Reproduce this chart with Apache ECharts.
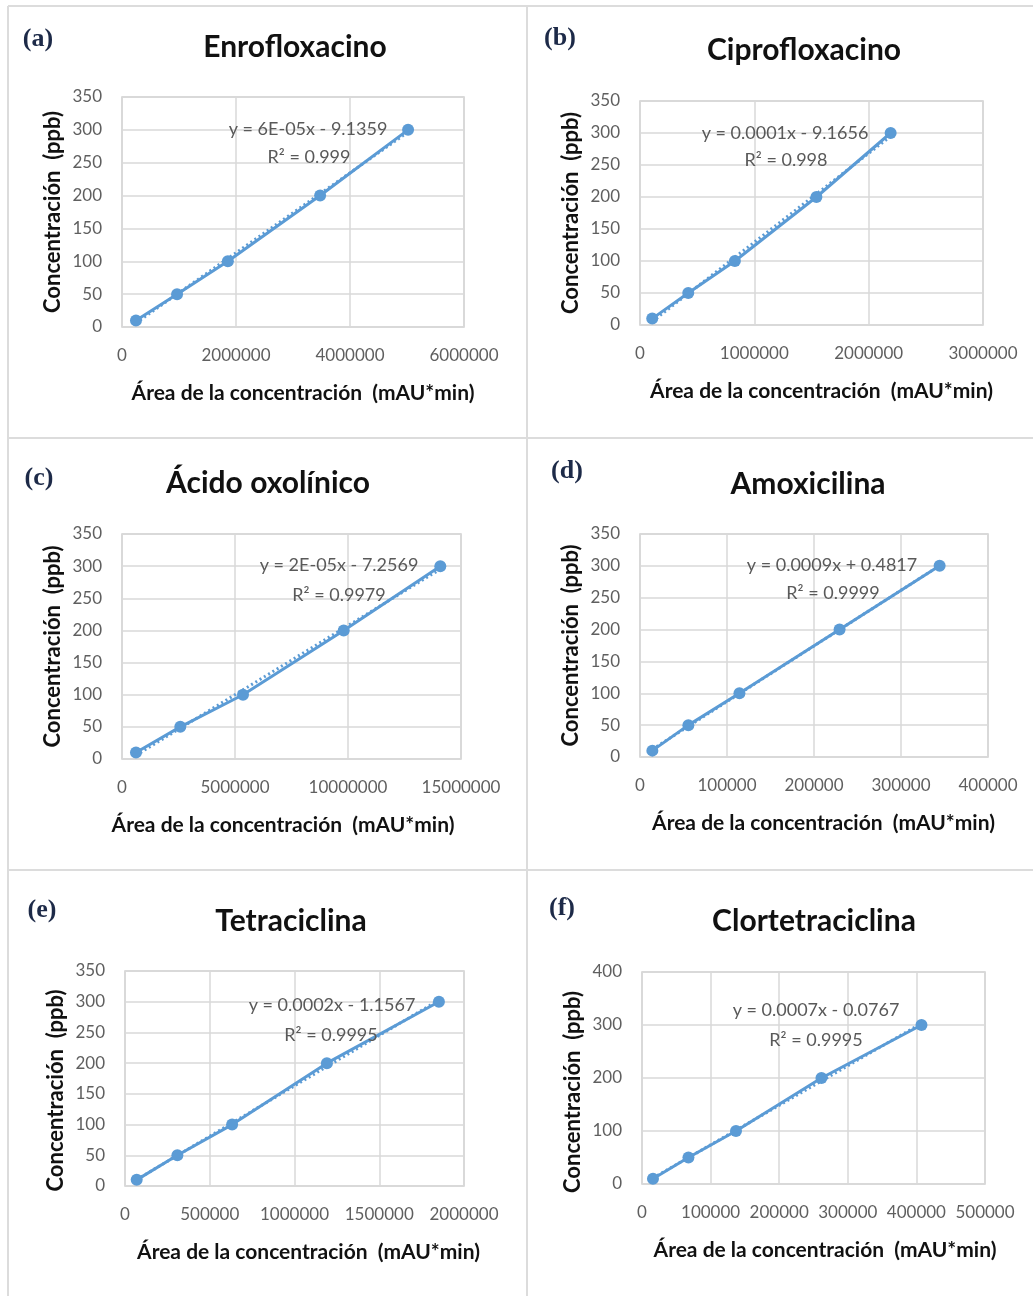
<!DOCTYPE html>
<html>
<head>
<meta charset="utf-8">
<script src="https://cdn.jsdelivr.net/npm/echarts@6/dist/echarts.min.js"></script>
<style>
  html, body { margin: 0; padding: 0; background: #ffffff; }
  #chart { width: 1033px; height: 1296px; }
</style>
</head>
<body>
<div id="chart"></div>
<script>
// Calibration curves: peak area (mAU*min) against standard concentration (ppb)
const panelTags = ['(a)', '(b)', '(c)', '(d)', '(e)', '(f)'];
const compounds = ['Enrofloxacino', 'Ciprofloxacino', 'Ácido oxolínico', 'Amoxicilina', 'Tetraciclina', 'Clortetraciclina'];
const concentration = [10, 50, 100, 200, 300];
const areaEnrofloxacino = [245000, 966000, 1857000, 3476000, 5019000];
const areaCiprofloxacino = [107000, 422000, 830000, 1543000, 2192000];
const areaAcidoOxolinico = [619000, 2580000, 5354000, 9810000, 14084000];
const areaAmoxicilina = [14200, 55600, 114300, 229400, 344400];
const areaTetraciclina = [69000, 309000, 632000, 1191000, 1852000];
const areaClortetraciclina = [16000, 67700, 137000, 261600, 407400];
const equations = ['y = 6E-05x - 9.1359', 'y = 0.0001x - 9.1656', 'y = 2E-05x - 7.2569', 'y = 0.0009x + 0.4817', 'y = 0.0002x - 1.1567', 'y = 0.0007x - 0.0767'];
const rSquared = ['R² = 0.999', 'R² = 0.998', 'R² = 0.9979', 'R² = 0.9999', 'R² = 0.9995', 'R² = 0.9995'];
const xTickMax = [6000000, 3000000, 15000000, 400000, 2000000, 500000];
const xTickStep = [2000000, 1000000, 5000000, 100000, 500000, 100000];
const yTickMax = [350, 350, 350, 350, 350, 400];
const yTickStep = [50, 50, 50, 50, 50, 100];
const xAxisTitle = 'Área de la concentración  (mAU*min)';
const yAxisTitle = 'Concentración  (ppb)';

const areas = [areaEnrofloxacino, areaCiprofloxacino, areaAcidoOxolinico, areaAmoxicilina, areaTetraciclina, areaClortetraciclina];

// Page layout of the six panels (pixels)
const layout = [
  { grid: [122, 97, 342, 230],  title: [295, 47],  tag: [38, 39],  eq: [308, 129], r2: [309, 157], xShift: 20,  yShift: 0 },
  { grid: [640, 101, 343, 224], title: [804, 50],  tag: [560, 38], eq: [785, 133], r2: [786, 160], xShift: 20,  yShift: 0 },
  { grid: [122, 534, 339, 225], title: [268, 483], tag: [39, 478], eq: [339, 565], r2: [339, 595], xShift: -17, yShift: 0 },
  { grid: [640, 534, 348, 223], title: [808, 484], tag: [567, 471], eq: [832, 565], r2: [833, 593], xShift: 19,  yShift: 0 },
  { grid: [125, 971, 339, 215], title: [291, 921], tag: [42, 910], eq: [332, 1005], r2: [331, 1035], xShift: 28, yShift: 24 },
  { grid: [642, 972, 343, 212], title: [814, 921], tag: [562, 908], eq: [816, 1010], r2: [816, 1040], xShift: 23, yShift: 28 }
];

const BLUE = '#5b9bd5';
const GRID_LINE = '#d9d9d9';
const TICK_TEXT = '#5f5f5f';
const SANS = 'Lato, "Open Sans", sans-serif';

function leastSquares(xs, ys) {
  const n = xs.length;
  const mx = xs.reduce((s, v) => s + v, 0) / n;
  const my = ys.reduce((s, v) => s + v, 0) / n;
  let sxy = 0, sxx = 0;
  for (let i = 0; i < n; i++) { sxy += (xs[i] - mx) * (ys[i] - my); sxx += (xs[i] - mx) * (xs[i] - mx); }
  const slope = sxy / sxx;
  return { slope, intercept: my - slope * mx };
}

const grids = [], xAxes = [], yAxes = [], series = [], graphics = [];

// panel frames
const frame = { stroke: '#dcdcdc', lineWidth: 2 };
[[8, 6, 1033, 6], [8, 6, 8, 1296], [527, 6, 527, 1296], [8, 438, 1033, 438], [8, 870, 1033, 870]].forEach(s => {
  graphics.push({ type: 'line', shape: { x1: s[0], y1: s[1], x2: s[2], y2: s[3] }, style: frame, silent: true });
});

const plainNumber = v => String(v);

areas.forEach((xs, i) => {
  const L = layout[i];
  grids.push({ left: L.grid[0], top: L.grid[1], width: L.grid[2], height: L.grid[3],
    show: true, borderColor: '#d0d0d0', borderWidth: 1.5, backgroundColor: '#ffffff', containLabel: false });

  xAxes.push({
    gridIndex: i, type: 'value', min: 0, max: xTickMax[i], interval: xTickStep[i],
    axisLine: { show: false }, axisTick: { show: false },
    splitLine: { show: true, lineStyle: { color: GRID_LINE, width: 1.5 } },
    axisLabel: { color: TICK_TEXT, fontFamily: SANS, fontSize: 17, margin: 20, showMaxLabel: true, showMinLabel: true,
      formatter: plainNumber },
    name: xAxisTitle, nameLocation: 'middle', nameGap: 56,
    nameTextStyle: { color: '#111111', fontFamily: SANS, fontWeight: 'bold', fontSize: 21,
      padding: L.xShift >= 0 ? [0, 0, 0, L.xShift] : [0, -L.xShift, 0, 0] }
  });

  yAxes.push({
    gridIndex: i, type: 'value', min: 0, max: yTickMax[i], interval: yTickStep[i],
    axisLine: { show: false }, axisTick: { show: false },
    splitLine: { show: true, lineStyle: { color: GRID_LINE, width: 1.5 } },
    axisLabel: { color: TICK_TEXT, fontFamily: SANS, fontSize: 17, margin: 20, formatter: plainNumber },
    name: yAxisTitle, nameLocation: 'middle', nameGap: 58,
    nameTextStyle: { color: '#111111', fontFamily: SANS, fontWeight: 'bold', fontSize: 22,
      padding: [0, L.yShift, 0, 0] }
  });

  // dotted linear trendline fitted to the standards
  const fit = leastSquares(xs, concentration);
  const xMin = Math.min(...xs), xMax = Math.max(...xs);
  series.push({
    type: 'line', xAxisIndex: i, yAxisIndex: i, z: 2, silent: true,
    symbol: 'none', animation: false,
    lineStyle: { color: BLUE, width: 3, type: [2, 3] },
    data: [[xMin, fit.intercept + fit.slope * xMin], [xMax, fit.intercept + fit.slope * xMax]]
  });

  // measured standards
  series.push({
    type: 'line', xAxisIndex: i, yAxisIndex: i, z: 3, animation: false,
    symbol: 'circle', symbolSize: 12,
    itemStyle: { color: BLUE },
    lineStyle: { color: BLUE, width: 3 },
    data: xs.map((x, k) => [x, concentration[k]])
  });

  graphics.push({ type: 'text', x: L.title[0], y: L.title[1], z: 10,
    style: { text: compounds[i], fill: '#111111', font: 'bold 30px ' + SANS, textAlign: 'center', textVerticalAlign: 'middle' } });
  graphics.push({ type: 'text', x: L.tag[0], y: L.tag[1], z: 10,
    style: { text: panelTags[i], fill: '#1d2a48', font: 'bold 26px "Liberation Serif", "DejaVu Serif", serif', textAlign: 'center', textVerticalAlign: 'middle' } });
  graphics.push({ type: 'text', x: L.eq[0], y: L.eq[1], z: 10,
    style: { text: equations[i], fill: '#595959', font: '18px ' + SANS, textAlign: 'center', textVerticalAlign: 'middle' } });
  graphics.push({ type: 'text', x: L.r2[0], y: L.r2[1], z: 10,
    style: { text: rSquared[i], fill: '#595959', font: '18px ' + SANS, textAlign: 'center', textVerticalAlign: 'middle' } });
});

const chart = echarts.init(document.getElementById('chart'), null, { renderer: 'canvas', width: 1033, height: 1296 });
chart.setOption({
  backgroundColor: '#ffffff',
  animation: false,
  grid: grids,
  xAxis: xAxes,
  yAxis: yAxes,
  series: series,
  graphic: { elements: graphics }
});
</script>
</body>
</html>
